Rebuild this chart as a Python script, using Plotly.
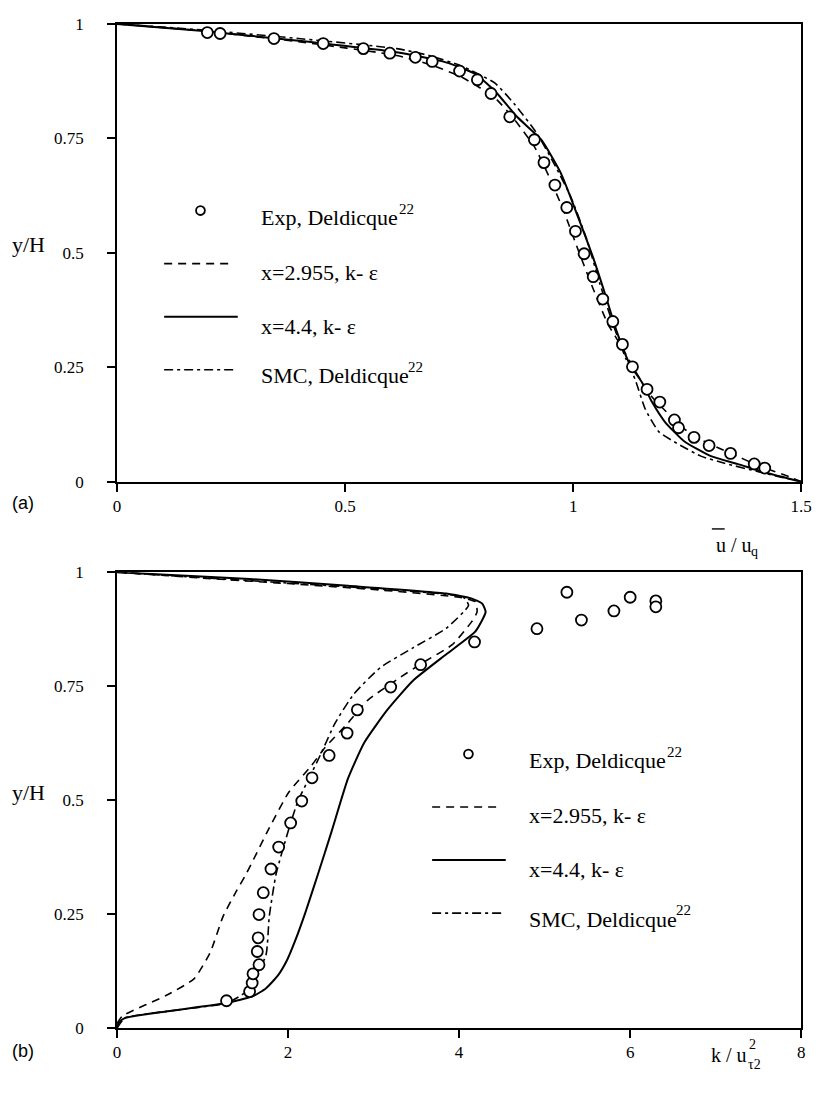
import plotly.graph_objects as go

# ---------------- data: panel (a) mean velocity ----------------
u_exp_a = [0.198, 0.226, 0.344, 0.452, 0.540, 0.598, 0.654, 0.691, 0.751, 0.790, 0.820,
           0.861, 0.915, 0.936, 0.960, 0.986, 1.005, 1.024, 1.044, 1.065, 1.087, 1.108,
           1.130, 1.162, 1.190, 1.222, 1.231, 1.265, 1.298, 1.345, 1.397, 1.420]
y_exp_a = [0.981, 0.979, 0.968, 0.957, 0.946, 0.936, 0.927, 0.918, 0.897, 0.878, 0.848,
           0.797, 0.747, 0.697, 0.648, 0.599, 0.547, 0.498, 0.448, 0.399, 0.350, 0.300,
           0.251, 0.202, 0.174, 0.135, 0.118, 0.097, 0.079, 0.062, 0.039, 0.030]

u_ke2955_a = [0, 0.183, 0.398, 0.613, 0.684, 0.755, 0.828, 0.872, 0.915, 0.947, 0.979, 1.011,
              1.044, 1.076, 1.108, 1.141, 1.173, 1.205, 1.237, 1.280, 1.345, 1.410, 1.474, 1.5]
y_ke2955_a = [1, 0.985, 0.961, 0.931, 0.912, 0.884, 0.839, 0.790, 0.732, 0.667, 0.592, 0.506,
              0.421, 0.345, 0.292, 0.234, 0.185, 0.152, 0.120, 0.092, 0.062, 0.034, 0.011, 0]

u_ke44_a = [0, 0.183, 0.398, 0.613, 0.721, 0.785, 0.828, 0.878, 0.930, 0.973, 1.007, 1.044,
            1.070, 1.097, 1.125, 1.151, 1.173, 1.201, 1.244, 1.302, 1.360, 1.425, 1.5]
y_ke44_a = [1, 0.985, 0.963, 0.938, 0.916, 0.891, 0.854, 0.796, 0.747, 0.674, 0.588, 0.489,
            0.410, 0.324, 0.255, 0.217, 0.174, 0.131, 0.088, 0.056, 0.039, 0.019, 0]

u_smc_a = [0, 0.183, 0.398, 0.613, 0.684, 0.755, 0.828, 0.872, 0.921, 0.958, 0.994, 1.029,
           1.059, 1.087, 1.115, 1.136, 1.158, 1.188, 1.231, 1.280, 1.330, 1.410, 1.5]
y_smc_a = [1, 0.987, 0.968, 0.946, 0.931, 0.908, 0.871, 0.824, 0.760, 0.695, 0.624, 0.532,
           0.431, 0.345, 0.270, 0.223, 0.159, 0.109, 0.082, 0.056, 0.041, 0.021, 0]

# ---------------- data: panel (b) turbulent kinetic energy ----------------
k_exp_b = [1.28, 1.55, 1.58, 1.59, 1.66, 1.64, 1.65, 1.66, 1.71, 1.80, 1.89, 2.03, 2.16, 2.28,
           2.48, 2.69, 2.81, 3.20, 3.55, 4.18, 4.91, 5.26, 5.43, 5.81, 6.00, 6.30, 6.30]
y_exp_b = [0.060, 0.080, 0.099, 0.119, 0.139, 0.168, 0.198, 0.249, 0.297, 0.349, 0.397, 0.450,
           0.498, 0.549, 0.598, 0.647, 0.698, 0.748, 0.797, 0.847, 0.876, 0.956, 0.895, 0.915,
           0.945, 0.937, 0.924]

k_ke2955_b = [0, 0.06, 0.59, 0.90, 1.09, 1.24, 1.40, 1.51, 1.78, 2.01, 2.27, 2.43, 2.70, 2.93,
              3.31, 3.58, 3.92, 4.15, 4.21, 4.19, 4.00, 3.00, 2.00, 1.00, 0]
y_ke2955_b = [0.01, 0.026, 0.073, 0.108, 0.166, 0.245, 0.302, 0.338, 0.439, 0.518, 0.575, 0.615,
              0.669, 0.719, 0.769, 0.802, 0.841, 0.892, 0.913, 0.935, 0.945, 0.962, 0.975, 0.987, 1]

k_ke44_b = [0, 0.02, 0.09, 0.59, 1.28, 1.59, 1.74, 1.88, 1.99, 2.09, 2.20, 2.35, 2.51, 2.70,
            2.89, 3.16, 3.46, 3.85, 4.19, 4.31, 4.27, 4.15, 3.85, 2.70, 1.55, 0.40, 0]
y_ke44_b = [0, 0.012, 0.022, 0.037, 0.055, 0.070, 0.087, 0.115, 0.150, 0.195, 0.252, 0.338,
            0.432, 0.547, 0.626, 0.698, 0.762, 0.820, 0.870, 0.913, 0.931, 0.942, 0.953, 0.970,
            0.985, 0.996, 1]

k_smc_b = [0, 0.09, 0.59, 1.28, 1.51, 1.74, 1.78, 1.86, 2.03, 2.12, 2.25, 2.39, 2.55, 2.77,
           3.08, 3.46, 3.85, 4.11, 4.05, 3.00, 2.00, 1.00, 0]
y_smc_b = [0, 0.022, 0.037, 0.055, 0.080, 0.159, 0.245, 0.338, 0.450, 0.500, 0.550, 0.604,
           0.669, 0.733, 0.791, 0.834, 0.877, 0.927, 0.945, 0.964, 0.976, 0.988, 1]

# ---------------- ticks / labels ----------------
y_ticks = [0, 0.25, 0.5, 0.75, 1]
y_ticktext = ["0", "0.25", "0.5", "0.75", "1"]
xa_ticks = [0, 0.5, 1, 1.5]
xa_ticktext = ["0", "0.5", "1", "1.5"]
xb_ticks = [0, 2, 4, 6, 8]
xb_ticktext = ["0", "2", "4", "6", "8"]
legend_labels = ["Exp, Deldicque", "x=2.955, k- \u03b5", "x=4.4, k- \u03b5", "SMC, Deldicque"]
legend_refs = ["22", "", "", "22"]

# page body keeps its default 8 px margin, so the figure is sized to fill the rest
OFF = 8
W, H = 824 - OFF, 1100 - OFF
SERIF = "Liberation Serif, Times New Roman, serif"
SANS = "Liberation Sans, Arial, sans-serif"


def fx(px):
    return (px - OFF) / W


def fy(py):
    return 1 - (py - OFF) / H


DASH = "8px,6px"
DASHDOT = "9px,4px,3px,4px"

fig = go.Figure()


def add_line(x, y, dash, width, xa, ya):
    fig.add_trace(go.Scatter(x=x, y=y, mode="lines", xaxis=xa, yaxis=ya,
                             line=dict(color="black", width=width, dash=dash,
                                       shape="spline", smoothing=0.5),
                             cliponaxis=False, showlegend=False, hoverinfo="skip"))


def add_exp(x, y, xa, ya):
    fig.add_trace(go.Scatter(x=x, y=y, mode="markers", xaxis=xa, yaxis=ya,
                             marker=dict(symbol="circle", size=11, color="white",
                                         line=dict(color="black", width=1.8)),
                             cliponaxis=False, showlegend=False, hoverinfo="skip"))


# panel (a)
add_line(u_smc_a, y_smc_a, DASHDOT, 1.6, "x", "y")
add_line(u_ke2955_a, y_ke2955_a, DASH, 1.6, "x", "y")
add_line(u_ke44_a, y_ke44_a, "solid", 2.0, "x", "y")
add_exp(u_exp_a, y_exp_a, "x", "y")

# panel (b)
add_line(k_smc_b, y_smc_b, DASHDOT, 1.6, "x2", "y2")
add_line(k_ke2955_b, y_ke2955_b, DASH, 1.6, "x2", "y2")
add_line(k_ke44_b, y_ke44_b, "solid", 2.0, "x2", "y2")
add_exp(k_exp_b, y_exp_b, "x2", "y2")

# empty traces so that the label-only overlay axes get drawn
for ya, xa in (("y3", "x"), ("y4", "x2")):
    fig.add_trace(go.Scatter(x=[None], y=[None], mode="markers", xaxis=xa, yaxis=ya,
                             showlegend=False, hoverinfo="skip"))

TICKFONT = dict(family=SERIF, size=17, color="black")
frame = dict(showline=True, linecolor="black", linewidth=1.6, mirror=True,
             ticks="outside", ticklen=8, tickwidth=1.5, tickcolor="black",
             showgrid=False, zeroline=False)
# label-only overlay axes: transparent long ticks push the y labels away from the frame
ylabels = dict(side="left", showline=False, showgrid=False, zeroline=False,
               ticks="outside", ticklen=29, tickcolor="rgba(0,0,0,0)",
               tickvals=y_ticks, ticktext=y_ticktext, tickfont=TICKFONT,
               range=[0, 1], fixedrange=True)

fig.update_layout(
    width=W, height=H,
    margin=dict(l=0, r=0, t=0, b=0),
    paper_bgcolor="white", plot_bgcolor="white",
    showlegend=False,
    xaxis=dict(domain=[fx(115), fx(812)], range=[0, 1.5], anchor="y",
               tickvals=xa_ticks, ticktext=xa_ticktext, tickfont=TICKFONT, **frame),
    yaxis=dict(domain=[fy(481), fy(15)], range=[0, 1], anchor="x",
               tickvals=y_ticks, showticklabels=False, **frame),
    xaxis2=dict(domain=[fx(115), fx(812)], range=[0, 8], anchor="y2",
                tickvals=xb_ticks, ticktext=xb_ticktext, tickfont=TICKFONT, **frame),
    yaxis2=dict(domain=[fy(1037), fy(573)], range=[0, 1], anchor="x2",
                tickvals=y_ticks, showticklabels=False, **frame),
    yaxis3=dict(overlaying="y", anchor="x", **ylabels),
    yaxis4=dict(overlaying="y2", anchor="x2", **ylabels),
)

annotations = []
shapes = []


def text(px, py, s, size=20, family=SERIF, xanchor="left"):
    annotations.append(dict(x=fx(px), y=fy(py), xref="paper", yref="paper", text=s,
                            showarrow=False, xanchor=xanchor, yanchor="middle",
                            font=dict(family=family, size=size, color="black")))


def draw_legend(dx, dy):
    shapes.append(dict(type="circle", xref="paper", yref="paper",
                       x0=fx(195.5 + dx), x1=fx(204.5 + dx),
                       y0=fy(209.5 + dy), y1=fy(200.5 + dy),
                       line=dict(color="black", width=1.8), fillcolor="white"))
    rows = [(259, DASH, 1.6, 232), (313, "solid", 2.0, 238), (367, DASHDOT, 1.6, 235)]
    for py, dash, w, xend in rows:
        shapes.append(dict(type="line", xref="paper", yref="paper",
                           x0=fx(163 + dx), x1=fx(xend + dx), y0=fy(py + dy), y1=fy(py + dy),
                           line=dict(color="black", width=w, dash=dash)))
    for lab, py in zip(legend_labels, [212, 268, 323, 373]):
        text(260 + dx, py + dy, lab, size=22)
    # superscript reference numbers
    text(400 + dx, 203 + dy, legend_refs[0], size=15)
    text(409 + dx, 364 + dy, legend_refs[3], size=15)


draw_legend(0, 0)
draw_legend(273, 553)

# axis titles
text(25, 240, "y/H", size=22, xanchor="center")
text(25, 797, "y/H", size=22, xanchor="center")
text(723, 545, "u / u", size=20)
text(759, 552, "q", size=14)
shapes.append(dict(type="line", xref="paper", yref="paper", x0=fx(721), x1=fx(734),
                   y0=fy(529), y1=fy(529), line=dict(color="black", width=1.4)))
text(718, 1064, "k / u", size=20)
text(757, 1054, "2", size=14)
text(756, 1074, "\u03c42", size=14)

# panel labels
text(19, 503, "(a)", size=18, family=SANS, xanchor="center")
text(19, 1060, "(b)", size=18, family=SANS, xanchor="center")

fig.update_layout(annotations=annotations, shapes=shapes)
fig.write_html("out.html")
